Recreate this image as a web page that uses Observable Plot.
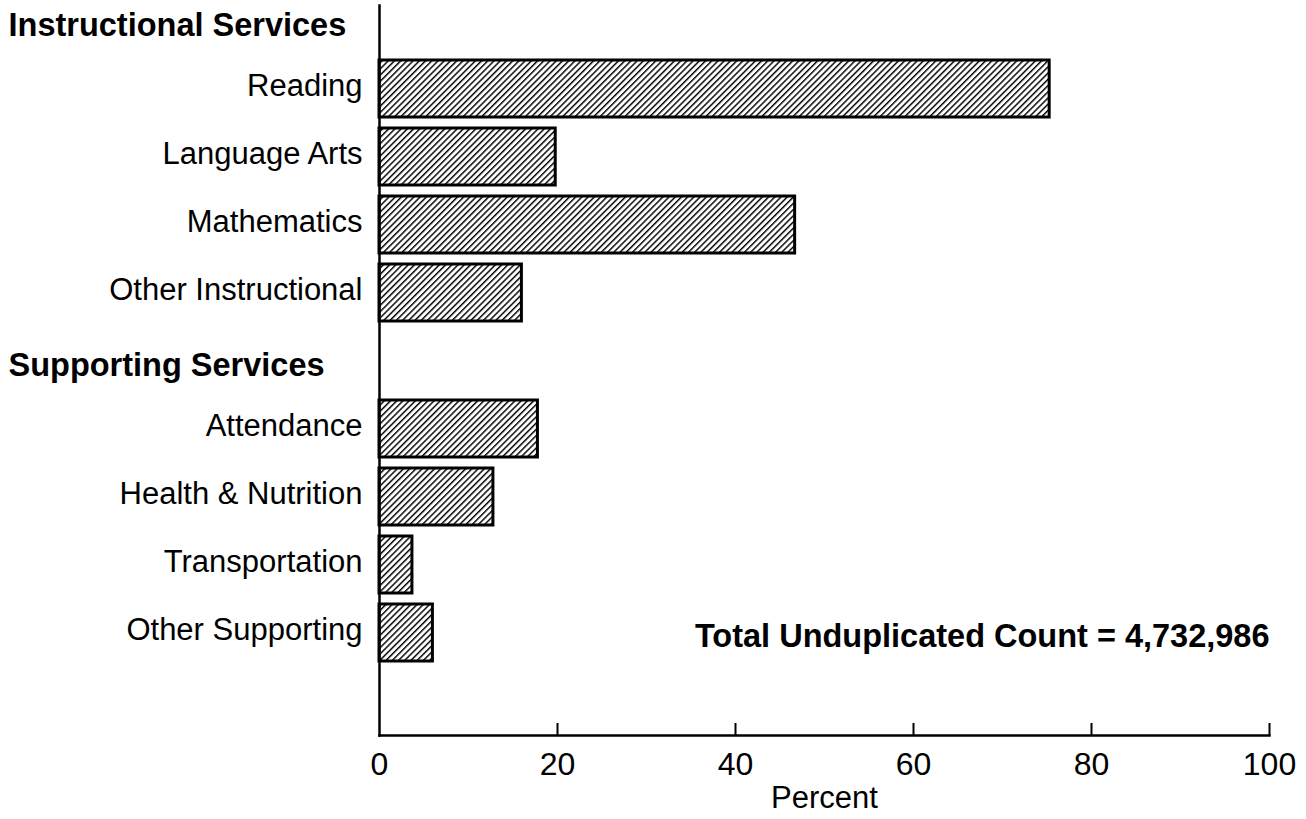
<!DOCTYPE html>
<html>
<head>
<meta charset="utf-8">
<script src="https://cdn.jsdelivr.net/npm/d3@7"></script>
<script src="https://cdn.jsdelivr.net/npm/@observablehq/plot@0.6"></script>
<style>
  html, body { margin: 0; padding: 0; background: #fff; }
  #chart svg { display: block; }
</style>
</head>
<body>
<div id="chart"></div>
<script>
// ---- data ----
const groups = ["Instructional Services", "Supporting Services"];
const instructionalCategories = ["Reading", "Language Arts", "Mathematics", "Other Instructional"];
const instructionalValues = [75.3, 19.8, 46.7, 16.0];
const supportingCategories = ["Attendance", "Health & Nutrition", "Transportation", "Other Supporting"];
const supportingValues = [17.8, 12.8, 3.7, 6.0];
const xTicks = [0, 20, 40, 60, 80, 100];
const xLabel = "Percent";
const totalNote = "Total Unduplicated Count = 4,732,986";

// ---- build rows ----
const bars = [
  ...instructionalCategories.map((c, i) => ({category: c, value: instructionalValues[i]})),
  ...supportingCategories.map((c, i) => ({category: c, value: supportingValues[i]}))
];
const yDomain = [groups[0], ...instructionalCategories, groups[1], ...supportingCategories, " "];
const headers = groups.map(g => ({category: g}));
const note = [{category: supportingCategories[supportingCategories.length - 1], value: 100, text: totalNote}];

const W = 1306, H = 819;
const mL = 379, mR = 37, mT = 5, mB = 84;
const font = "'Liberation Sans', Arial, Helvetica, sans-serif";

const chart = Plot.plot({
  width: W,
  height: H,
  marginLeft: mL,
  marginRight: mR,
  marginTop: mT,
  marginBottom: mB,
  style: {fontFamily: font, fontSize: "31px", color: "#000", background: "#fff"},
  x: {domain: [0, 100], label: null},
  y: {domain: yDomain, range: [-13, H - mB], paddingInner: 0.16, paddingOuter: 0.08, label: null},
  marks: [
    Plot.barX(bars, {x: "value", y: "category", fill: "url(#hatch)", stroke: "#000", strokeWidth: 3}),
    Plot.frame({anchor: "left", stroke: "#000", strokeWidth: 2.5}),
    Plot.frame({anchor: "bottom", stroke: "#000", strokeWidth: 2.5}),
    Plot.axisY({
      ticks: [...instructionalCategories, ...supportingCategories],
      tickSize: 0, tickPadding: 17, fontSize: 31, dy: -3, label: null
    }),
    Plot.text(headers, {
      y: "category", text: "category", frameAnchor: "left", textAnchor: "start",
      dx: -mL + 8, dy: 5, fontWeight: "bold", fontSize: 32.5
    }),
    Plot.axisX({ticks: xTicks.slice(1), tickSize: -12, text: null, strokeWidth: 2, label: null}),
    Plot.axisX({ticks: xTicks, tickSize: 0, tickPadding: 17, fontSize: 32, label: null}),
    Plot.text([xLabel], {frameAnchor: "bottom", dy: 72, text: d => d, fontSize: 31}),
    Plot.text(note, {x: "value", y: "category", text: "text", textAnchor: "end", dy: 4, fontWeight: "bold", fontSize: 32.5})
  ]
});

// hatch pattern
const svg = d3.select(chart);
const defs = svg.insert("defs", ":first-child");
const P = 4.4;
const pat = defs.append("pattern")
  .attr("id", "hatch")
  .attr("patternUnits", "userSpaceOnUse")
  .attr("width", P)
  .attr("height", P)
  .attr("patternTransform", "rotate(45)");
pat.append("rect").attr("width", P).attr("height", P).attr("fill", "#fff");
pat.append("line").attr("x1", 0).attr("y1", 0).attr("x2", 0).attr("y2", P)
  .attr("stroke", "#000").attr("stroke-width", 2.9);

document.getElementById("chart").appendChild(chart);
</script>
</body>
</html>
